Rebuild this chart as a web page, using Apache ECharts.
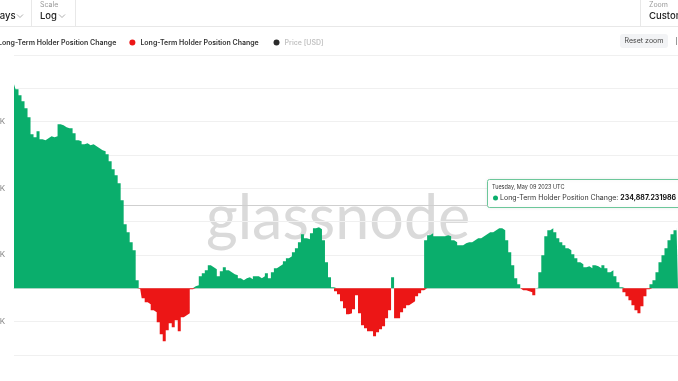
<!DOCTYPE html>
<html>
<head>
<meta charset="utf-8">
<script src="https://cdn.jsdelivr.net/npm/echarts@6/dist/echarts.min.js"></script>
<style>
  html, body { margin: 0; padding: 0; background: #fff; }
  #chart { width: 678px; height: 381px; }
</style>
</head>
<body>
<div id="chart"></div>
<script>
// LTH position change, thousands of BTC, one value every 5 days
const lthChange = [
  612, 597, 579, 561, 540, 513, 462, 453, 471, 447, 444, 450,
  456, 453, 456, 492, 489, 483, 480, 480, 465, 444, 441, 432,
  435, 429, 432, 426, 420, 414, 411, 402, 381, 357, 339, 315,
  264, 192, 168, 138, 114, 24, -2, -30, -42, -48, -66, -72,
  -102, -138, -159, -126, -105, -117, -96, -129, -87, -81, -75, -3,
  6, 9, 36, 45, 54, 69, 63, 57, 36, 51, 63, 54,
  48, 42, 39, 30, 24, 30, 33, 27, 36, 36, 30, 36,
  45, 30, 48, 60, 66, 72, 81, 90, 96, 108, 120, 138,
  162, 150, 147, 165, 180, 183, 177, 144, 78, 33, 3, -9,
  -18, -39, -60, -78, -75, -63, -21, -75, -111, -120, -129, -129,
  -144, -132, -123, -114, -90, -66, 33, -90, -90, -72, -60, -51,
  -45, -39, -24, -15, -6, 144, 159, 165, 156, 156, 156, 156,
  159, 156, 144, 138, 129, 129, 135, 138, 138, 144, 150, 150,
  156, 162, 168, 168, 174, 180, 180, 174, 144, 108, 69, 30,
  12, -6, -6, -9, -12, -21, 2, 48, 99, 156, 174, 180,
  168, 150, 138, 129, 120, 114, 102, 90, 78, 72, 63, 66,
  60, 69, 66, 60, 69, 60, 48, 54, 36, 18, 3, -12,
  -24, -36, -51, -66, -75, -54, -24, -3, 12, 24, 48, 78,
  99, 120, 144, 162, 174, 186
]
const yTickLabels = [-100, 100, 300, 500]
const seriesName = 'Long-Term Holder Position Change'
const priceName = 'Price [USD]'
const tipDate = 'Tuesday, May 09 2023 UTC'
const tipValue = '234,887.231986'

const dates = []
const start = Date.UTC(2020, 3, 29)
for (let i = 0; i < lthChange.length; i++) {
  dates.push(new Date(start + i * 5 * 86400000).toISOString().slice(0, 10))
}
// green part above zero, red part below
const gains = lthChange.map(v => Math.max(v, 0))
const losses = lthChange.map(v => Math.min(v, 0))

const GREEN = '#0aae6c'
const RED = '#ec1616'
const font = 'Inter, "Noto Sans", sans-serif'

const chart = echarts.init(document.getElementById('chart'))

const chevron = (x, y) => ({
  type: 'polyline', z: 50,
  shape: { points: [[x, y], [x + 3, y + 3], [x + 6, y]] },
  style: { stroke: '#999', lineWidth: 0.8, fill: null }
})
const txt = (x, y, text, size, color, extra, z) => ({
  type: 'text', x, y, z: z || 50,
  style: Object.assign({ text, fontSize: size, fill: color, fontFamily: font, verticalAlign: 'middle' }, extra || {})
})
const areaSeries = (name, data, color) => ({
  name, type: 'line', data, step: 'middle', z: 2,
  showSymbol: false, itemStyle: { color },
  lineStyle: { width: 0 }, areaStyle: { color, opacity: 1 }
})

const option = {
  animation: false,
  grid: { left: 14, right: 0, top: 55, height: 300, containLabel: false, outerBoundsMode: 'none' },
  legend: {
    left: -13, top: 39, padding: 0, itemGap: 13, itemWidth: 6, itemHeight: 6, icon: 'circle',
    textStyle: { fontSize: 7, fontWeight: 600, color: '#333', fontFamily: font },
    data: [
      { name: seriesName },
      { name: seriesName + ' ' },
      { name: priceName, itemStyle: { color: '#2b2b2b' }, textStyle: { color: '#c4c4c4' } }
    ]
  },
  xAxis: {
    type: 'category', data: dates, boundaryGap: false,
    axisLine: { onZero: true, lineStyle: { color: '#e3e3e3' } },
    axisTick: { show: false }, axisLabel: { show: false }, splitLine: { show: false }
  },
  yAxis: {
    type: 'value', min: -200, max: 700, interval: 100,
    splitLine: { lineStyle: { color: '#f0f0f0' } },
    axisLine: { show: false }, axisTick: { show: false },
    axisLabel: {
      formatter: v => (yTickLabels.includes(v) ? v + 'K' : ''),
      color: '#888', fontSize: 8, margin: 9, padding: [0, 0, 6, 0], fontFamily: font
    }
  },
  series: [
    areaSeries(seriesName, gains, GREEN),
    areaSeries(seriesName + ' ', losses, RED),
    { name: priceName, type: 'line', data: [], showSymbol: false, itemStyle: { color: '#2b2b2b' } }
  ],
  graphic: [
    // watermark and crosshair, under the series
    { type: 'text', x: 206, y: 189, z: 0, style: { text: 'glassnode', fontSize: 61, fontFamily: 'Lato, sans-serif', fill: '#dadada' } },
    { type: 'line', z: 0, shape: { x1: 14, y1: 205.5, x2: 488, y2: 205.5 }, style: { stroke: '#cfcfcf', lineWidth: 1 } },
    // top toolbar
    { type: 'line', z: 50, shape: { x1: 0, y1: 26.5, x2: 678, y2: 26.5 }, style: { stroke: '#e8e8e8' } },
    { type: 'line', z: 50, shape: { x1: 31.5, y1: 0, x2: 31.5, y2: 26 }, style: { stroke: '#e8e8e8' } },
    { type: 'line', z: 50, shape: { x1: 75.5, y1: 0, x2: 75.5, y2: 26 }, style: { stroke: '#e8e8e8' } },
    { type: 'line', z: 50, shape: { x1: 640.5, y1: 0, x2: 640.5, y2: 26 }, style: { stroke: '#e8e8e8' } },
    txt(15.5, 16, 'Days', 9.5, '#222', { align: 'right', fontWeight: 500 }),
    chevron(17, 14.5),
    txt(40, 4.5, 'Scale', 7, '#999'),
    txt(40, 16, 'Log', 9.5, '#222', { fontWeight: 500 }),
    chevron(59, 14.5),
    txt(649, 4.5, 'Zoom', 7, '#999'),
    txt(649, 16, 'Custom', 9.5, '#222', { fontWeight: 500 }),
    // reset zoom button
    { type: 'rect', z: 50, shape: { x: 620, y: 34, width: 48, height: 14, r: 3 }, style: { fill: '#f2f3f5' } },
    txt(644, 41, 'Reset zoom', 7, '#444', { align: 'center' }, 51),
    { type: 'line', z: 50, shape: { x1: 676.5, y1: 37, x2: 676.5, y2: 45 }, style: { stroke: '#999' } },
    // tooltip
    {
      type: 'rect', z: 100, shape: { x: 487.5, y: 179.5, width: 200, height: 28, r: 2 },
      style: { fill: '#fff', stroke: '#6cc79a', lineWidth: 1, shadowBlur: 4, shadowColor: 'rgba(0,0,0,0.08)' }
    },
    txt(492, 187.5, tipDate, 5.5, '#333', {}, 101),
    { type: 'circle', z: 101, shape: { cx: 495.5, cy: 198, r: 2.5 }, style: { fill: GREEN } },
    {
      type: 'text', x: 500, y: 198, z: 101,
      style: {
        text: '{a|' + seriesName + ': }{b|' + tipValue + '}', verticalAlign: 'middle',
        rich: {
          a: { fontSize: 7, fill: '#333', fontFamily: font },
          b: { fontSize: 7, fill: '#111', fontWeight: 700, fontFamily: font }
        }
      }
    }
  ]
}
chart.setOption(option)
</script>
</body>
</html>
